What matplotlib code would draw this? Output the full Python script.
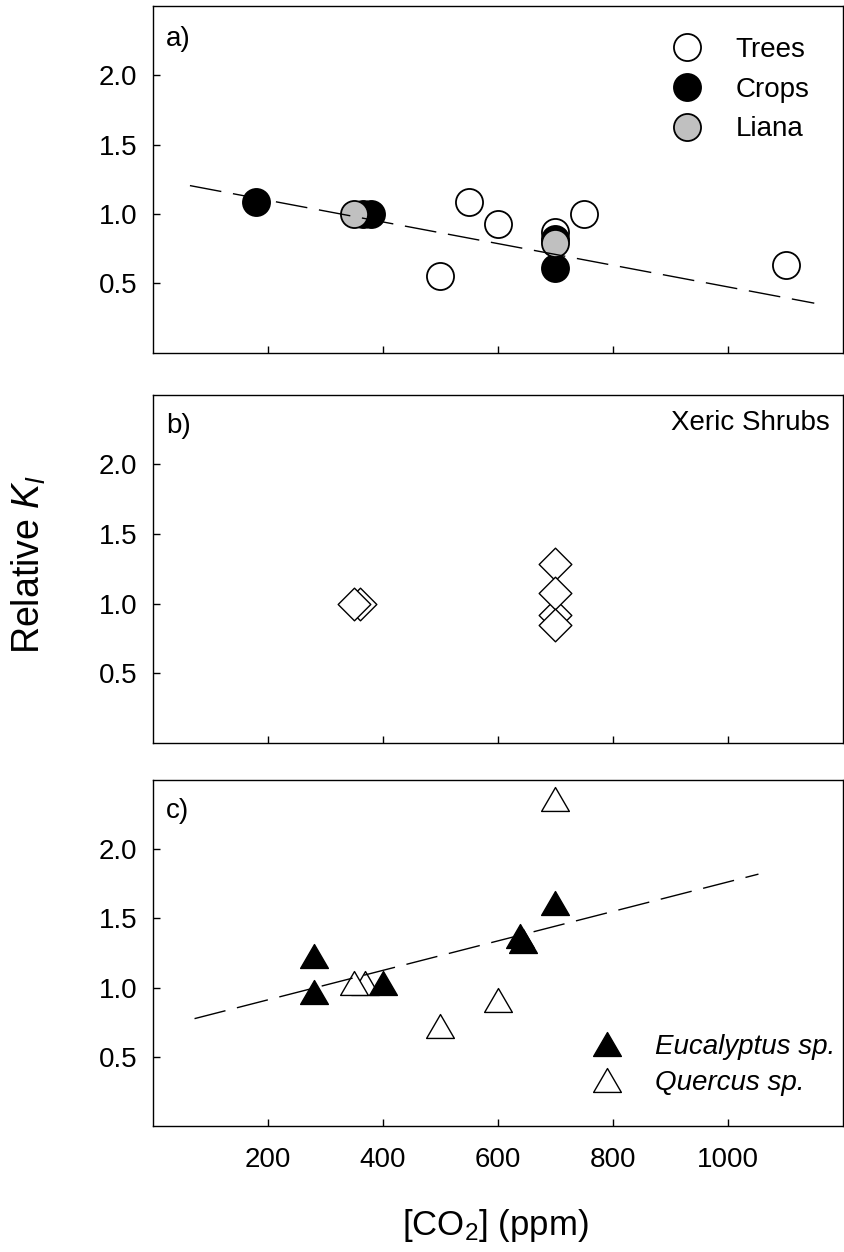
import matplotlib
matplotlib.use("Agg")
import matplotlib.pyplot as plt
from matplotlib.path import Path
from matplotlib.lines import Line2D

plt.rcParams['font.family'] = ['Liberation Sans', 'DejaVu Sans']
plt.rcParams['mathtext.fontset'] = 'custom'
plt.rcParams['mathtext.rm'] = 'Liberation Sans'
plt.rcParams['mathtext.it'] = 'Liberation Sans:italic'

# ---------------- data ----------------
# panel a
trees_x = [500, 550, 600, 700, 750, 1100]
trees_y = [0.55, 1.09, 0.93, 0.87, 1.00, 0.63]
crops_x = [180, 365, 380, 700, 700]
crops_y = [1.09, 1.00, 1.00, 0.82, 0.61]
liana_x = [350, 700]
liana_y = [1.00, 0.79]
trend_a_x = [65, 1150]
trend_a_y = [1.205, 0.357]

# panel b
shrubs_x = [360, 350, 700, 700, 700, 700]
shrubs_y = [1.00, 1.00, 0.92, 1.285, 1.075, 0.845]

# panel c
quercus_x = [370, 350, 500, 600, 700]
quercus_y = [1.03, 1.03, 0.72, 0.91, 2.36]
euc_x = [280, 280, 400, 638, 643, 700]
euc_y = [1.23, 0.97, 1.03, 1.37, 1.34, 1.61]
trend_c_x = [73, 1053]
trend_c_y = [0.776, 1.82]

x_ticks = [200, 400, 600, 800, 1000]
y_ticks = [0.5, 1.0, 1.5, 2.0]
y_ticklabels = ['0.5', '1.0', '1.5', '2.0']

# ---------------- figure ----------------
fig = plt.figure(figsize=(8.45, 12.52), dpi=100)
left, width = 0.1805, 0.8172
ax_a = fig.add_axes([left, 0.7183, width, 0.2769])
ax_b = fig.add_axes([left, 0.4066, width, 0.2780])
ax_c = fig.add_axes([left, 0.1006, width, 0.2764])

tri = Path([(-1, -0.86), (1, -0.86), (0, 0.86), (-1, -0.86)],
           [Path.MOVETO, Path.LINETO, Path.LINETO, Path.CLOSEPOLY])
dia = Path([(0, 1), (1, 0), (0, -1), (-1, 0), (0, 1)],
           [Path.MOVETO, Path.LINETO, Path.LINETO, Path.LINETO, Path.CLOSEPOLY])

for ax in (ax_a, ax_b, ax_c):
    ax.set_xlim(0, 1200)
    ax.set_ylim(0, 2.5)
    ax.set_xticks(x_ticks)
    ax.set_yticks(y_ticks)
    ax.set_yticklabels(y_ticklabels)
    ax.tick_params(axis='both', direction='in', length=5, width=1.0,
                   labelsize=20, top=False, right=False)
    ax.tick_params(axis='y', pad=11)
    ax.tick_params(axis='x', pad=15)
    for s in ax.spines.values():
        s.set_linewidth(1.0)

ax_a.tick_params(axis='x', labelbottom=False)
ax_b.tick_params(axis='x', labelbottom=False)
ax_c.set_xticklabels([str(v) for v in x_ticks])

ms_c = 19.5
dash = (23, 8.5)

# panel a
ax_a.plot(trees_x, trees_y, 'o', ms=ms_c, mfc='white', mec='black', mew=1.3,
          ls='none', zorder=3, label='Trees')
ax_a.plot(crops_x, crops_y, 'o', ms=ms_c, mfc='black', mec='black', mew=1.3,
          ls='none', zorder=4, label='Crops')
ax_a.plot(liana_x, liana_y, 'o', ms=ms_c, mfc='#c0c0c0', mec='black', mew=1.3,
          ls='none', zorder=5, label='Liana')
ax_a.plot(trend_a_x, trend_a_y, color='black', lw=1.0, dashes=dash, zorder=6)
ax_a.legend(loc='center left', bbox_to_anchor=(0.7494, 0.759), frameon=False,
            fontsize=20, handlelength=1.2, handletextpad=1.15, labelspacing=0.5,
            borderpad=0, borderaxespad=0, numpoints=1)
ax_a.text(0.0196, 0.905, 'a)', transform=ax_a.transAxes, fontsize=20,
          ha='left', va='center')

# panel b
for xv, yv in zip(shrubs_x, shrubs_y):
    ax_b.plot([xv], [yv], marker=dia, ms=23.5, mfc='white', mec='black',
              mew=1.0, ls='none', zorder=3)
ax_b.text(0.0196, 0.91, 'b)', transform=ax_b.transAxes, fontsize=20,
          ha='left', va='center')
ax_b.text(0.981, 0.92, 'Xeric Shrubs', transform=ax_b.transAxes, fontsize=20,
          ha='right', va='center')

# panel c
ax_c.plot(quercus_x, quercus_y, marker=tri, ms=20, mfc='white', mec='black',
          mew=1.0, ls='none', zorder=3)
ax_c.plot(euc_x, euc_y, marker=tri, ms=20, mfc='black', mec='black',
          mew=1.0, ls='none', zorder=4)
ax_c.plot(trend_c_x, trend_c_y, color='black', lw=1.0, dashes=dash, zorder=6)
h_euc = Line2D([], [], marker=tri, ms=20, mfc='black', mec='black', mew=1.0, ls='none')
h_que = Line2D([], [], marker=tri, ms=20, mfc='white', mec='black', mew=1.0, ls='none')
leg = ax_c.legend([h_euc, h_que], ['Eucalyptus sp.', 'Quercus sp.'],
                  loc='center left', bbox_to_anchor=(0.6336, 0.177), frameon=False,
                  fontsize=20, handlelength=1.2, handletextpad=1.15, labelspacing=0.34,
                  borderpad=0, borderaxespad=0, numpoints=1)
for t in leg.get_texts():
    t.set_fontstyle('italic')
ax_c.text(0.0196, 0.91, 'c)', transform=ax_c.transAxes, fontsize=20,
          ha='left', va='center')

# axis labels
fig.text(0.034, 0.549, r'Relative $\mathit{K_l}$', rotation=90, fontsize=27,
         ha='center', va='center')
fig.text(0.586, 0.021, r'[CO$_2$] (ppm)', fontsize=25, ha='center', va='center')

fig.savefig('out.png', dpi=100)
